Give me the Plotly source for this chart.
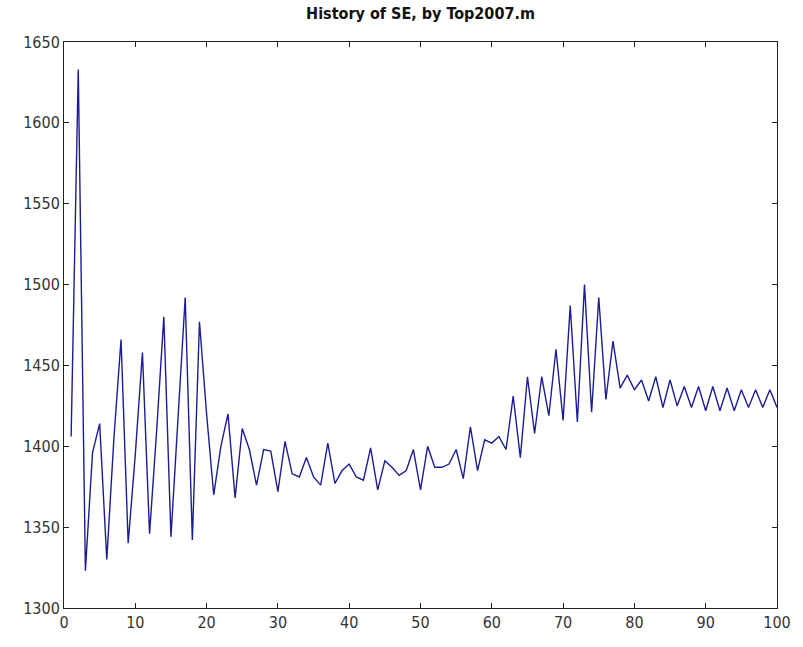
import plotly.graph_objects as go

iterations = list(range(1, 101))
se_values = [
    1406, 1633, 1323, 1396, 1414, 1330, 1405, 1466, 1340, 1395,
    1458, 1346, 1410, 1480, 1344, 1420, 1492, 1342, 1477, 1420,
    1370, 1400, 1420, 1368, 1411, 1398, 1376, 1398, 1397, 1372,
    1403, 1383, 1381, 1393, 1381, 1376, 1402, 1377, 1385, 1389,
    1381, 1379, 1399, 1373, 1391, 1387, 1382, 1385, 1398, 1373,
    1400, 1387, 1387, 1389, 1398, 1380, 1412, 1385, 1404, 1402,
    1406, 1398, 1431, 1393, 1443, 1408, 1443, 1419, 1460, 1416,
    1487, 1415, 1500, 1421, 1492, 1429, 1465, 1436, 1444, 1435,
    1441, 1428, 1443, 1424, 1441, 1425, 1437, 1424, 1437, 1422,
    1437, 1422, 1436, 1422, 1435, 1424, 1435, 1424, 1435, 1424,
]
x_ticks = [0, 10, 20, 30, 40, 50, 60, 70, 80, 90, 100]
y_ticks = [1300, 1350, 1400, 1450, 1500, 1550, 1600, 1650]
title_text = "History of SE, by Top2007.m"

font_family = "Liberation Sans Narrow, DejaVu Sans Condensed, Arial Narrow, sans-serif"

fig = go.Figure()
fig.add_trace(go.Scatter(
    x=iterations, y=se_values, mode="lines",
    line=dict(color="#1c1c94", width=1.4),
    showlegend=False, hoverinfo="x+y",
))

axis_common = dict(
    showgrid=False, zeroline=False,
    showline=True, linecolor="#222", linewidth=1,
    mirror="ticks", ticks="inside", ticklen=5, tickcolor="#222",
    tickfont=dict(family=font_family, size=16, color="#333"),
)

fig.update_layout(
    width=803, height=647,
    margin=dict(l=64, r=20, t=42, b=39),
    paper_bgcolor="white", plot_bgcolor="white",
    title=dict(text="<b>" + title_text + "</b>", x=0.5, xref="paper",
               xanchor="center", y=1 - 13 / 647, yanchor="middle",
               font=dict(family=font_family, size=16, color="#111")),
    xaxis=dict(range=[0, 100], tickvals=x_ticks, **axis_common),
    yaxis=dict(range=[1300, 1650], tickvals=y_ticks, **axis_common),
)

fig.write_html("out.html")
